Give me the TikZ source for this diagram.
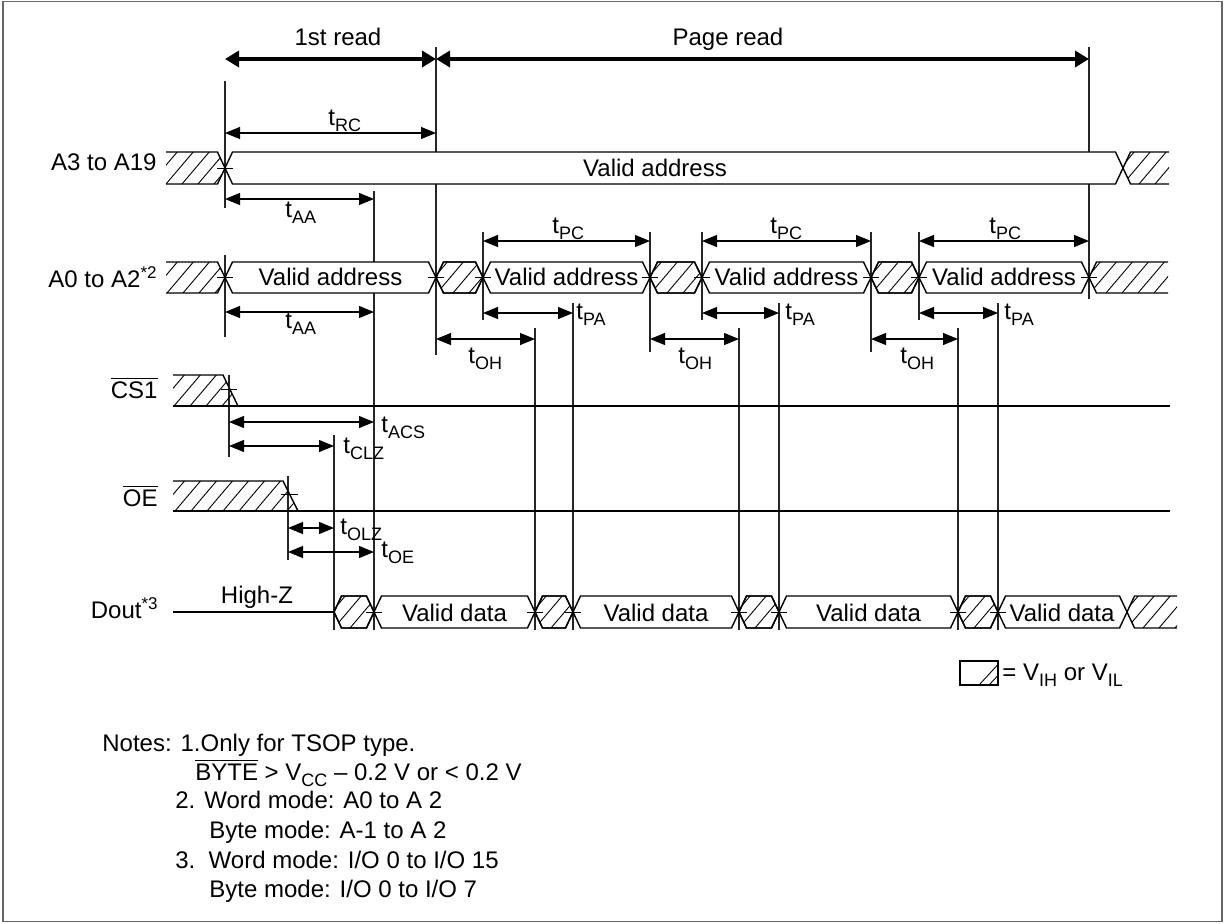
\documentclass[tikz,border=0pt]{standalone}
\usepackage{fontspec}
\setmainfont{Liberation Sans}
\usetikzlibrary{arrows.meta}

\newcommand{\tsub}[2]{#1\raisebox{-3pt}{\fontsize{9}{10}\selectfont #2}}
\newcommand{\tsup}[2]{#1\raisebox{4.5pt}{\fontsize{8.5}{10}\selectfont #2}}
\newcommand{\ovl}[1]{$\overline{\hbox{#1}}$}

% hatch lines inside a clip established by the caller
\newcommand{\hatchlines}[4]{%
  \pgfmathsetmacro{\hh}{#4-#3}%
  \pgfmathtruncatemacro{\hn}{(#2-#1+\hh)/16+1}%
  \foreach \hk in {0,...,\hn}{%
    \draw[hl] ({#1-\hh+16*\hk},#4) -- ++({0.85*\hh},{-\hh});}}
% valid bus segment (white filled, hides reference lines behind it)
\newcommand{\validhex}[4]{%
  \filldraw[sig, fill=white] (#1,{(#3+#4)/2}) -- ({#1+7.5},#3) -- ({#2-7.5},#3) -- (#2,{(#3+#4)/2}) -- ({#2-7.5},#4) -- ({#1+7.5},#4) -- cycle;}
% hatched bus segment
\newcommand{\hatchhex}[4]{%
  \validhex{#1}{#2}{#3}{#4}
  \begin{scope}
    \clip (#1,{(#3+#4)/2}) -- ({#1+7.5},#3) -- ({#2-7.5},#3) -- (#2,{(#3+#4)/2}) -- ({#2-7.5},#4) -- ({#1+7.5},#4) -- cycle;
    \hatchlines{#1}{#2}{#3}{#4}
  \end{scope}
  \draw[sig] (#1,{(#3+#4)/2}) -- ({#1+7.5},#3) -- ({#2-7.5},#3) -- (#2,{(#3+#4)/2}) -- ({#2-7.5},#4) -- ({#1+7.5},#4) -- cycle;}
% small tick at a crossing
\newcommand{\tick}[2]{\draw[tk] ({#1-8},#2) -- ({#1+8},#2);}
% timing arrow between named coordinates
\newcommand{\tarr}[4]{%
  \coordinate (#1-a) at (#2,#4);
  \coordinate (#1-b) at (#3,#4);
  \draw[tarrow] (#1-a) -- (#1-b);}

\begin{document}
\begin{tikzpicture}[x=0.5pt,y=-0.5pt,
  font=\fontsize{12}{14}\selectfont,
  sig/.style={line width=0.7pt, line join=miter},
  hl/.style={line width=0.45pt},
  tk/.style={line width=0.45pt},
  vl/.style={line width=0.55pt, black!85},
  tarrow/.style={line width=0.55pt,{Triangle[length=7.5pt,width=6pt]}-{Triangle[length=7.5pt,width=6pt]}},
  bigarrow/.style={line width=2.3pt,{Triangle[length=7pt,width=8pt]}-{Triangle[length=7pt,width=8pt]}},
  lbl/.style={inner sep=0pt, anchor=base west},
  lblr/.style={inner sep=0pt, anchor=base east},
  lblc/.style={inner sep=0pt, anchor=base},
]
\useasboundingbox (0,0) rectangle (1227,923);
\draw[black!60, line width=0.9pt] (3,1.5) rectangle (1222,921.5);

% ---- vertical reference lines
\draw[vl] (225,81) -- (225,208);
\draw[vl] (225,255) -- (225,337);
\draw[vl] (436,47) -- (436,355);
\draw[vl] (374,191) -- (374,630);
\draw[vl] (1089,47) -- (1089,299);
\draw[vl] (483,232) -- (483,320);
\draw[vl] (650,232) -- (650,352);
\draw[vl] (702,232) -- (702,320);
\draw[vl] (871,232) -- (871,352);
\draw[vl] (919,232) -- (919,320);
\draw[vl] (535,328) -- (535,630);
\draw[vl] (573,303) -- (573,630);
\draw[vl] (739,328) -- (739,630);
\draw[vl] (779,303) -- (779,630);
\draw[vl] (958,328) -- (958,630);
\draw[vl] (998,303) -- (998,630);
\draw[vl] (229,375) -- (229,457);
\draw[vl] (334,435) -- (334,630);
\draw[vl] (288,476) -- (288,560);

% ---- read cycle arrows
\coordinate (r0) at (225,59);
\coordinate (r1) at (436,59);
\coordinate (r2) at (1089,59);
\draw[bigarrow] (r0) -- (r1);
\draw[bigarrow] (r1) -- (r2);
\node[lblc] (l1st) at (338,45) {1st read};
\node[lblc] (lpage) at (728,45) {Page read};

% ---- A3 to A19
\node[lblr] (nA3) at (157,170) {A3 to A19};
\begin{scope}
  \clip (166,152) -- (217.5,152) -- (225,168) -- (217.5,184) -- (166,184) -- cycle;
  \hatchlines{166}{225}{152}{184}
\end{scope}
\draw[sig] (166,152) -- (217.5,152) -- (225,168) -- (217.5,184) -- (166,184);
\validhex{225}{1123}{152}{184}
\begin{scope}
  \clip (1123,168) -- (1130.5,152) -- (1169,152) -- (1169,184) -- (1130.5,184) -- cycle;
  \hatchlines{1123}{1169}{152}{184}
\end{scope}
\draw[sig] (1169,152) -- (1130.5,152) -- (1123,168) -- (1130.5,184) -- (1169,184);
\tick{225}{168}
\node[lblc] (vA3) at (655,176) {Valid address};

% ---- A0 to A2
\node[lblr] (nA0) at (157,287) {\tsup{A0 to A2}{*2}};
\begin{scope}
  \clip (166,262) -- (217.5,262) -- (225,277.5) -- (217.5,293) -- (166,293) -- cycle;
  \hatchlines{166}{225}{262}{293}
\end{scope}
\draw[sig] (166,262) -- (217.5,262) -- (225,277.5) -- (217.5,293) -- (166,293);
\validhex{225}{436}{262}{293}
\hatchhex{436}{483}{262}{293}
\validhex{483}{650}{262}{293}
\hatchhex{650}{702}{262}{293}
\validhex{702}{871}{262}{293}
\hatchhex{871}{919}{262}{293}
\validhex{919}{1089}{262}{293}
\begin{scope}
  \clip (1089,277.5) -- (1096.5,262) -- (1168,262) -- (1168,293) -- (1096.5,293) -- cycle;
  \hatchlines{1089}{1168}{262}{293}
\end{scope}
\draw[sig] (1168,262) -- (1096.5,262) -- (1089,277.5) -- (1096.5,293) -- (1168,293);
\foreach \cx in {225,436,483,650,702,871,919,1089} {\tick{\cx}{277.5}}
\node[lblc] (vA0a) at (330.5,285) {Valid address};
\node[lblc] (vA0b) at (566.5,285) {Valid address};
\node[lblc] (vA0c) at (786.5,285) {Valid address};
\node[lblc] (vA0d) at (1004,285) {Valid address};

% ---- CS1
\node[lblr] (nCS) at (158,398) {\ovl{CS1}};
\begin{scope}
  \clip (173,375) -- (223,375) -- (238,406) -- (173,406) -- cycle;
  \hatchlines{173}{238}{375}{406}
\end{scope}
\draw[sig] (173,375) -- (223,375) -- (238,406);
\draw[sig] (173,406) -- (1170,406);
\draw[tk] (221,389) -- (237,389);

% ---- OE
\node[lblr] (nOE) at (158,506) {\ovl{OE}};
\begin{scope}
  \clip (173,481) -- (283,481) -- (298,511) -- (173,511) -- cycle;
  \hatchlines{173}{298}{481}{511}
\end{scope}
\draw[sig] (173,481) -- (283,481) -- (298,511);
\draw[sig] (173,511) -- (1170,511);
\draw[tk] (281,494) -- (298,494);

% ---- Dout
\node[lblr] (nDout) at (158,618) {\tsup{Dout}{*3}};
\node[lblc] (nHZ) at (257,603) {High-Z};
\draw[sig] (173,612) -- (334,612);
\hatchhex{334}{374}{596}{628}
\validhex{374}{535}{596}{628}
\hatchhex{535}{573}{596}{628}
\validhex{573}{739}{596}{628}
\hatchhex{739}{779}{596}{628}
\validhex{779}{958}{596}{628}
\hatchhex{958}{998}{596}{628}
\validhex{998}{1127}{596}{628}
\begin{scope}
  \clip (1127,612) -- (1134.5,596) -- (1177,596) -- (1177,628) -- (1134.5,628) -- cycle;
  \hatchlines{1127}{1177}{596}{628}
\end{scope}
\draw[sig] (1177,596) -- (1134.5,596) -- (1127,612) -- (1134.5,628) -- (1177,628);
\foreach \cx in {374,535,573,739,779,958,998} {\tick{\cx}{612}}
\node[lblc] (vD1) at (454.5,621) {Valid data};
\node[lblc] (vD2) at (656,621) {Valid data};
\node[lblc] (vD3) at (868.5,621) {Valid data};
\node[lblc] (vD4) at (1062,621) {Valid data};

% ---- timing arrows
\tarr{rc}{225}{436}{133}
\node[lbl] (trc) at (328,125) {\tsub{t}{RC}};
\tarr{aa1}{225}{374}{199}
\node[lbl] (taa1) at (285,217) {\tsub{t}{AA}};
\tarr{aa2}{225}{374}{312}
\node[lbl] (taa2) at (285,328) {\tsub{t}{AA}};
\tarr{pc1}{483}{650}{241}
\node[lbl] (tpc1) at (552,233) {\tsub{t}{PC}};
\tarr{pc2}{702}{871}{241}
\node[lbl] (tpc2) at (770,233) {\tsub{t}{PC}};
\tarr{pc3}{919}{1089}{241}
\node[lbl] (tpc3) at (989,233) {\tsub{t}{PC}};
\tarr{pa1}{483}{573}{313}
\node[lbl] (tpa1) at (576,319) {\tsub{t}{PA}};
\tarr{pa2}{702}{779}{313}
\node[lbl] (tpa2) at (785,319) {\tsub{t}{PA}};
\tarr{pa3}{919}{998}{313}
\node[lbl] (tpa3) at (1004,319) {\tsub{t}{PA}};
\tarr{oh1}{436}{535}{339}
\node[lbl] (toh1) at (468,363) {\tsub{t}{OH}};
\tarr{oh2}{650}{739}{339}
\node[lbl] (toh2) at (678,363) {\tsub{t}{OH}};
\tarr{oh3}{871}{958}{339}
\node[lbl] (toh3) at (900,363) {\tsub{t}{OH}};
\tarr{acs}{229}{374}{422}
\node[lbl] (tacs) at (381,432) {\tsub{t}{ACS}};
\tarr{clz}{229}{334}{446}
\node[lbl] (tclz) at (343,453) {\tsub{t}{CLZ}};
\tarr{olz}{288}{334}{528}
\node[lbl] (tolz) at (340,534) {\tsub{t}{OLZ}};
\tarr{oe}{288}{374}{552}
\node[lbl] (toe) at (381,557) {\tsub{t}{OE}};

% ---- legend
\draw[sig] (960,661) rectangle (998,685);
\draw[hl] (979,685) -- (997.5,665);
\draw[hl] (989,685) -- (998,675.5);
\node[lbl] (leg) at (1002,680) {= \tsub{V}{IH} or \tsub{V}{IL}};

% ---- notes
\node[lbl] (n1) at (102,751) {Notes: 1.Only for TSOP type.};
\node[lbl] (n1b) at (195,780) {\ovl{BYTE} > \tsub{V}{CC} – 0.2 V or < 0.2 V};
\node[lbl] (n2) at (175,808) {2. Word mode: A0 to A 2};
\node[lbl] (n2b) at (209,838) {Byte mode: A-1 to A 2};
\node[lbl] (n3) at (175,868) {3.\ \ Word mode: I/O 0 to I/O 15};
\node[lbl] (n3b) at (209,897) {Byte mode: I/O 0 to I/O 7};
\end{tikzpicture}
\end{document}
